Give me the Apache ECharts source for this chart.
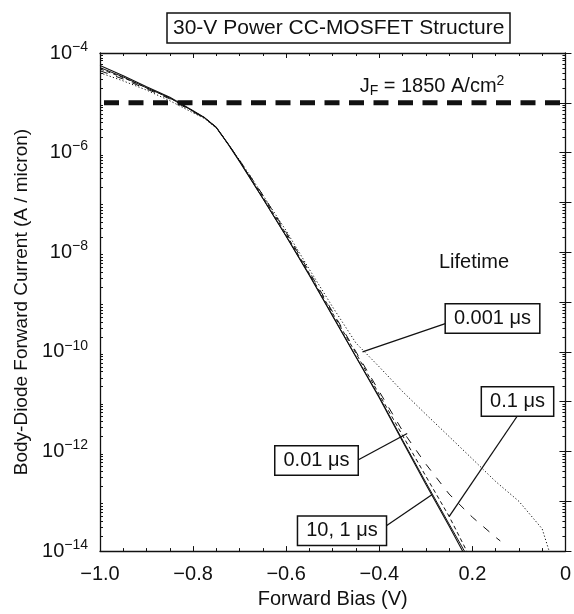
<!DOCTYPE html>
<html>
<head>
<meta charset="utf-8">
<script src="https://cdn.jsdelivr.net/npm/echarts@6/dist/echarts.min.js"></script>
<style>html,body{margin:0;padding:0;background:#fff;}#c{width:574px;height:614px;}</style>
</head>
<body>
<div id="c"></div>
<script>
// ---- data ----
const xTickLabels = ['\u22121.0', '\u22120.8', '\u22120.6', '\u22120.4', '0.2', '0'];
const yTickExponents = [-14, -12, -10, -8, -6, -4];
const jfLevel = 1e-5;

const v10us = [-1.0,-0.95,-0.9,-0.85,-0.8,-0.775,-0.75,-0.725,-0.7,-0.65,-0.6,-0.55,-0.5,-0.45,-0.4,-0.35,-0.3,-0.25,-0.221];
const i10us = [5.6e-5,3.5e-5,2.1e-5,1.3e-5,6.9e-6,5.0e-6,3.2e-6,1.5e-6,6.6e-7,1.2e-7,2.1e-8,3.4e-9,5.2e-10,7.9e-11,1.2e-11,1.6e-12,2.2e-13,3.2e-14,1.0e-14];

const v1us = [-1.0,-0.95,-0.9,-0.85,-0.8,-0.775,-0.75,-0.725,-0.7,-0.65,-0.6,-0.55,-0.5,-0.45,-0.4,-0.35,-0.3,-0.25,-0.217];
const i1us = [5.1e-5,3.3e-5,2.0e-5,1.25e-5,6.8e-6,5.0e-6,3.2e-6,1.5e-6,6.7e-7,1.2e-7,2.1e-8,3.5e-9,5.3e-10,8.0e-11,1.25e-11,1.7e-12,2.4e-13,3.5e-14,1.0e-14];

const v01us = [-1.0,-0.95,-0.9,-0.85,-0.8,-0.775,-0.75,-0.725,-0.7,-0.65,-0.6,-0.55,-0.5,-0.45,-0.4,-0.35,-0.3,-0.25,-0.212];
const i01us = [4.8e-5,3.2e-5,2.0e-5,1.26e-5,6.8e-6,5.0e-6,3.2e-6,1.5e-6,6.8e-7,1.3e-7,2.3e-8,3.7e-9,5.9e-10,9.3e-11,1.4e-11,2.1e-12,3.2e-13,5.0e-14,1.0e-14];

const v001us = [-1.0,-0.95,-0.9,-0.85,-0.8,-0.775,-0.75,-0.725,-0.7,-0.65,-0.6,-0.55,-0.5,-0.45,-0.4,-0.35,-0.3,-0.25,-0.2,-0.15,-0.14];
const i001us = [4.4e-5,3.0e-5,1.9e-5,1.2e-5,6.6e-6,4.9e-6,3.2e-6,1.5e-6,7.0e-7,1.4e-7,2.5e-8,4.0e-9,6.3e-10,1.0e-10,1.6e-11,2.6e-12,5.6e-13,1.4e-13,4.8e-14,1.9e-14,1.6e-14];

const v0001us = [-1.0,-0.95,-0.9,-0.85,-0.8,-0.775,-0.75,-0.725,-0.7,-0.65,-0.6,-0.55,-0.5,-0.45,-0.4,-0.35,-0.3,-0.25,-0.2,-0.15,-0.1,-0.05,-0.035];
const i0001us = [4.0e-5,2.75e-5,1.8e-5,1.1e-5,6.3e-6,4.8e-6,3.1e-6,1.5e-6,7.1e-7,1.4e-7,2.7e-8,4.5e-9,7.9e-10,1.5e-10,5.0e-11,1.6e-11,5.6e-12,2.0e-12,7.1e-13,2.5e-13,1.0e-13,2.8e-14,1.0e-14];

// ---- chart ----
const FONT = '"Liberation Sans", Arial, Helvetica, sans-serif';
const pairs = (xs, ys) => xs.map((x, i) => [x, ys[i]]);
const minorLog = [];
for (let d = -14; d < -4; d++) for (let k = 2; k <= 9; k++) minorLog.push(d + Math.log10(k));

const chart = echarts.init(document.getElementById('c'), null, {renderer: 'canvas'});
const axisCol = '#111';
const curve = (name, xs, ys, type, width) => ({
  name, type: 'line', xAxisIndex: 0, yAxisIndex: 0, data: pairs(xs, ys),
  showSymbol: false, symbol: 'none', silent: true, animation: false, clip: true,
  lineStyle: {color: '#111', width: width || 1, type: type}
});

const yLabelFmt = (val) => {
  const e = Math.round(val);
  if (yTickExponents.indexOf(e) < 0) return '';
  return '{b|10}{s|\u2212' + (-e) + '}';
};
const valueOverlay = (pos, withLabels) => ({
  type: 'value', min: -14, max: -4, interval: 1, position: pos,
  axisLine: {show: false}, splitLine: {show: false},
  axisTick: {show: true, inside: true, length: 6, lineStyle: {color: axisCol}},
  axisLabel: withLabels ? {show: true, margin: 12, formatter: yLabelFmt, color: '#111', hideOverlap: false,
    showMinLabel: true, showMaxLabel: true,
    rich: {
      b: {fontFamily: FONT, fontSize: 20, color: '#111'},
      s: {fontFamily: FONT, fontSize: 14, color: '#111', verticalAlign: 'bottom', padding: [0, 0, 12, 0]}
    }} : {show: false}
});
const minorOverlay = (pos) => ({
  type: 'value', min: -14, max: -4, position: pos,
  axisLine: {show: false}, axisLabel: {show: false}, splitLine: {show: false},
  axisTick: {show: true, inside: true, length: 3, customValues: minorLog, lineStyle: {color: axisCol}}
});

chart.setOption({
  animation: false,
  backgroundColor: '#fff',
  textStyle: {fontFamily: FONT},
  title: {
    text: '30-V Power CC-MOSFET Structure',
    left: 167, top: 13,
    borderColor: '#111', borderWidth: 1.5, padding: [4, 6],
    textStyle: {fontFamily: FONT, fontSize: 21, fontWeight: 'normal', color: '#111', lineHeight: 22}
  },
  grid: {left: 100, right: 4, top: 53, bottom: 55, containLabel: false},
  xAxis: [
    {type: 'value', min: -1, max: 0, interval: 0.2, position: 'bottom',
     name: 'Forward Bias (V)', nameLocation: 'middle', nameGap: 35,
     nameTextStyle: {fontFamily: FONT, fontSize: 20, color: '#111'},
     axisLine: {show: true, onZero: false, lineStyle: {color: axisCol, width: 1.3}},
     axisTick: {show: true, inside: true, length: 5, lineStyle: {color: axisCol}},
     minorTick: {show: true, splitNumber: 4, length: 3, lineStyle: {color: axisCol}},
     axisLabel: {margin: 13, fontFamily: FONT, fontSize: 20, color: '#111',
       formatter: (v) => xTickLabels[Math.round((v + 1) / 0.2)]},
     splitLine: {show: false}},
    {type: 'value', min: -1, max: 0, interval: 0.2, position: 'top',
     axisLine: {show: true, onZero: false, lineStyle: {color: axisCol, width: 1.3}},
     axisTick: {show: true, inside: true, length: 5, lineStyle: {color: axisCol}},
     minorTick: {show: true, splitNumber: 4, length: 3, lineStyle: {color: axisCol}},
     axisLabel: {show: false}, splitLine: {show: false}}
  ],
  yAxis: [
    {type: 'log', logBase: 10, min: 1e-14, max: 1e-4, position: 'left',
     name: 'Body-Diode Forward Current (A / micron)', nameLocation: 'middle', nameGap: 69,
     nameTextStyle: {fontFamily: FONT, fontSize: 19, color: '#111'},
     axisLine: {show: true, onZero: false, lineStyle: {color: axisCol, width: 1.3}},
     axisTick: {show: false}, axisLabel: {show: false}, splitLine: {show: false}},
    {type: 'log', logBase: 10, min: 1e-14, max: 1e-4, position: 'right',
     axisLine: {show: true, onZero: false, lineStyle: {color: axisCol, width: 1.3}},
     axisTick: {show: false}, axisLabel: {show: false}, splitLine: {show: false}},
    valueOverlay('left', true),
    valueOverlay('right', false),
    minorOverlay('left'),
    minorOverlay('right')
  ],
  series: [
    curve('10 \u03bcs', v10us, i10us, 'solid', 1.1),
    curve('1 \u03bcs', v1us, i1us, 'solid', 1.0),
    curve('0.1 \u03bcs', v01us, i01us, [4, 3], 1.0),
    curve('0.01 \u03bcs', v001us, i001us, [8, 9], 1.0),
    curve('0.001 \u03bcs', v0001us, i0001us, [1.2, 2.2], 1.0),
    {name: 'JF', type: 'line', xAxisIndex: 0, yAxisIndex: 0, data: [[-1, jfLevel], [0, jfLevel]],
     showSymbol: false, symbol: 'none', silent: true,
     lineStyle: {color: '#111', width: 5, type: [15, 9.5], dashOffset: 20.5}}
  ]
});

// ---- annotations ----
const px = (x, y) => chart.convertToPixel({seriesIndex: 0}, [x, y]);
const boxStyle = (text) => ({
  text, font: '20px ' + FONT, fill: '#111', align: 'center', verticalAlign: 'middle',
  backgroundColor: '#fff', borderColor: '#111', borderWidth: 1.5, padding: [4, 8]
});
const labels = [
  {text: '0.001 \u03bcs', c: [492.5, 318.5], from: [446, 323.3], to: [-0.436, 1.0e-10]},
  {text: '0.1 \u03bcs', c: [517.5, 401.5], from: [517, 416.5], to: [-0.250, 4.9e-14]},
  {text: '0.01 \u03bcs', c: [316.5, 460.4], from: [358, 460], to: [-0.340, 2.3e-12]},
  {text: '10, 1 \u03bcs', c: [342, 530.7], from: [386, 526], to: [-0.287, 1.35e-13]}
];
const g = [];
labels.forEach(l => {
  const p = px(l.to[0], l.to[1]);
  g.push({type: 'line', z: 50, shape: {x1: l.from[0], y1: l.from[1], x2: p[0], y2: p[1]},
          style: {stroke: '#111', lineWidth: 1.3}});
  g.push({type: 'text', z: 60, x: l.c[0], y: l.c[1], style: boxStyle(l.text)});
});
g.push({type: 'text', z: 60, x: 474, y: 262,
  style: {text: 'Lifetime', font: '20px ' + FONT, fill: '#111', align: 'center', verticalAlign: 'middle'}});
g.push({type: 'text', z: 60, x: 432, y: 86,
  style: {text: '{a|J}{sub|F}{a| = 1850 A/cm}{sup|2}', align: 'center', verticalAlign: 'middle',
    rich: {
      a: {font: '20px ' + FONT, fill: '#111'},
      sub: {font: '14px ' + FONT, fill: '#111', verticalAlign: 'top', padding: [10, 0, 0, 0]},
      sup: {font: '14px ' + FONT, fill: '#111', verticalAlign: 'bottom', padding: [0, 0, 10, 0]}
    }}});
chart.setOption({graphic: g});
</script>
</body>
</html>
